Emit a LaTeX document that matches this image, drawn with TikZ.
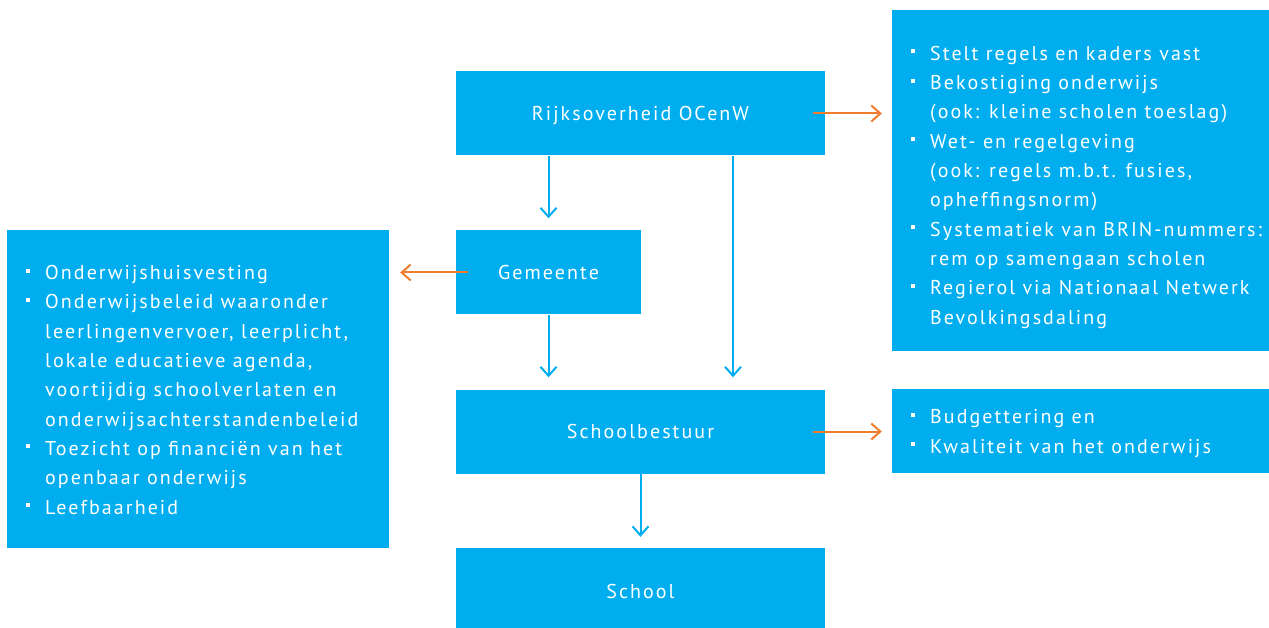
\documentclass[tikz,border=0pt]{standalone}
\usepackage{fontspec}
\setmainfont{PT Sans}[LetterSpace=10.3]
\usetikzlibrary{arrows.meta}
\definecolor{boxblue}{RGB}{0,174,239}
\definecolor{linkorange}{RGB}{240,125,45}
\newcommand\sqbul{\llap{\rule[7pt]{4pt}{4pt}\hspace{15pt}}}
\tikzset{
  x=1pt, y=-1pt,
  unit/.style={fill=boxblue, draw=none, text=white, inner sep=0pt,
    text height=14pt, text depth=0pt,
    font=\fontsize{20}{29.3}\selectfont},
  panel/.style={fill=boxblue, draw=none, inner sep=0pt},
  % anchored at the baseline of the last line
  listtext/.style={text=white, inner sep=0pt, align=left, anchor=base west,
    font=\fontsize{20}{29.3}\selectfont},
  down/.style={draw=boxblue, line width=2pt, -{Straight Barb[length=9pt,width=16pt]}},
  side/.style={draw=linkorange, line width=2pt, -{Straight Barb[length=9pt,width=16pt]}}
}
\begin{document}
\begin{tikzpicture}
\useasboundingbox (0,0) rectangle (1269,628);

% organisation levels
\node[unit, minimum width=369pt, minimum height=84pt] (rijk) at (640.5,113.5) {Rijksoverheid OCenW};
\node[unit, minimum width=185pt, minimum height=84pt] (gem) at (548.5,272.5) {Gemeente};
\node[unit, minimum width=369pt, minimum height=84pt] (sb) at (640.5,431.5) {Schoolbestuur};
\node[unit, minimum width=369pt, minimum height=86pt] (school) at (640.5,591) {School};

% task panels
\node[panel, minimum width=377pt, minimum height=341pt] (rtop) at (1080.5,180.5) {};
\node[panel, minimum width=382pt, minimum height=318pt] (left) at (198,389) {};
\node[panel, minimum width=377pt, minimum height=84pt] (rbot) at (1080.5,431) {};

\node[listtext] (rtoptxt) at (930,324) {\sqbul Stelt regels en kaders vast\\
\sqbul Bekostiging onderwijs\\
(ook: kleine scholen toeslag)\\
\sqbul Wet- en regelgeving\\
(ook: regels m.b.t. fusies,\\
opheffingsnorm)\\
\sqbul Systematiek van BRIN-nummers:\\
rem op samengaan scholen\\
\sqbul Regierol via Nationaal Netwerk\\
Bevolkingsdaling};

\node[listtext] (lefttxt) at (45,514) {\sqbul Onderwijshuisvesting\\
\sqbul Onderwijsbeleid waaronder\\
leerlingenvervoer, leerplicht,\\
lokale educatieve agenda,\\
voortijdig schoolverlaten en\\
onderwijsachterstandenbeleid\\
\sqbul Toezicht op financiën van het\\
openbaar onderwijs\\
\sqbul Leefbaarheid};

\node[listtext] (rbottxt) at (930,453) {\sqbul Budgettering en\\
\sqbul Kwaliteit van het onderwijs};

% hierarchy
\draw[down] (rijk.south -| gem.center) -- ([yshift=12pt]gem.north);
\draw[down] (gem.south) -- ([yshift=12pt]sb.north -| gem.center);
\draw[down] ([xshift=92.5pt]rijk.south) -- ([xshift=92.5pt,yshift=12pt]sb.north);
\draw[down] (sb.south) -- ([yshift=11pt]school.north);

% responsibilities
\draw[side] ([xshift=-12pt]rijk.east) -- ([xshift=-10pt]rijk.east -| rtop.west);
\draw[side] ([xshift=12pt]gem.west) -- ([xshift=11pt]gem.west -| left.east);
\draw[side] ([xshift=-12pt]sb.east) -- ([xshift=-10pt]sb.east -| rbot.west);
\end{tikzpicture}
\end{document}
